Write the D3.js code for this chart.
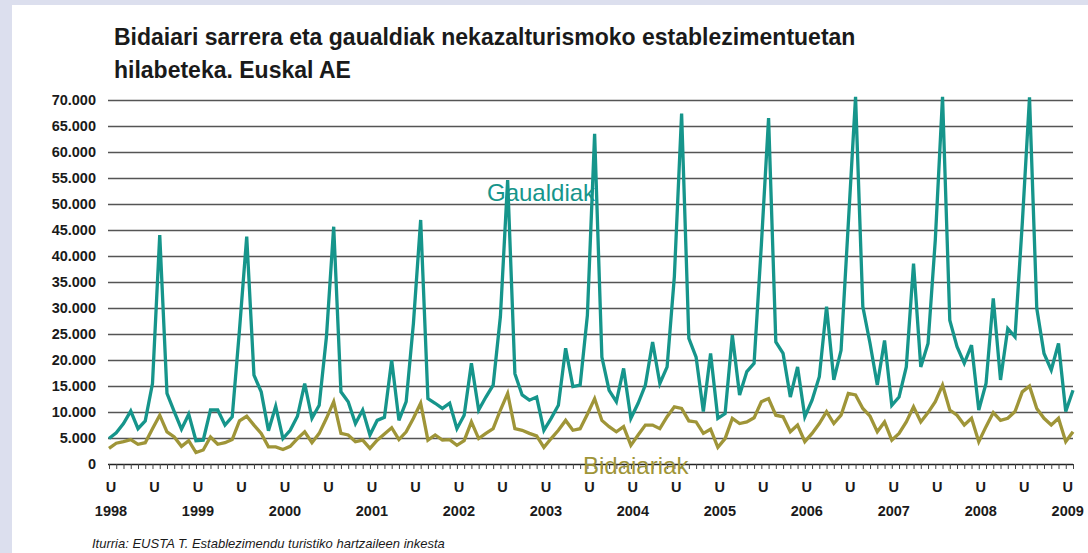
<!DOCTYPE html>
<html>
<head>
<meta charset="utf-8">
<script src="https://cdn.jsdelivr.net/npm/d3@7"></script>
<style>
  html, body { margin: 0; padding: 0; background: #dcdfee; }
  svg { display: block; font-family: "Liberation Sans", Arial, sans-serif; }
</style>
</head>
<body>
<svg id="chart" width="1088" height="553"></svg>
<script>
// Monthly values, Jan 1998 .. Feb 2009
var gaualdiak = [
  4800, 5900, 7700, 10100, 6700, 8200, 15400, 44000, 13500, 10000, 6600, 9500,
  4400, 4500, 10300, 10300, 7400, 9000, 25700, 43700, 17000, 13800, 6300, 11000,
  4800, 6400, 9100, 15400, 8700, 11200, 24400, 45600, 13800, 11900, 7700, 10300,
  5500, 8300, 8900, 19900, 8300, 11900, 27000, 46900, 12500, 11600, 10600, 11600,
  6700, 9300, 19300, 10300, 12800, 15100, 28300, 54600, 17300, 13200, 12200, 12800,
  6400, 8700, 11200, 22200, 14800, 15100, 28500, 63500, 20500, 14100, 11900, 18300,
  8700, 11600, 15100, 23400, 15400, 18600, 36000, 67400, 24100, 20500, 10000, 21200,
  8700, 9600, 24700, 13200, 17700, 19300, 42000, 66500, 23400, 21200, 12800, 18600,
  9000, 12200, 16700, 30200, 16100, 21800, 46200, 70600, 30200, 23100, 15100, 23700,
  11200, 12800, 18600, 38500, 18600, 23100, 43000, 70600, 27600, 22500, 19300, 22800,
  10300, 15400, 31800, 16100, 26000, 24400, 46200, 70500, 29900, 21200, 18000, 23100,
  10000, 14100
];

var bidaiariak = [
  2900, 3900, 4200, 4600, 3700, 4000, 6700, 9300, 6100, 5100, 3300, 4400,
  2100, 2600, 5100, 3700, 4000, 4600, 8200, 9100, 7400, 5800, 3200, 3200,
  2700, 3300, 4800, 6100, 4000, 5800, 8700, 11900, 5800, 5500, 4200, 4500,
  2900, 4500, 5700, 6900, 4600, 6100, 8700, 11600, 4500, 5500, 4500, 4600,
  3500, 4400, 8000, 4800, 5800, 6700, 10300, 13500, 6700, 6400, 5800, 5300,
  3100, 4800, 6400, 8300, 6400, 6700, 9500, 12500, 8300, 7100, 6100, 7100,
  3500, 5500, 7400, 7400, 6700, 9000, 10900, 10600, 8200, 8000, 5800, 6600,
  3100, 4800, 8700, 7700, 8000, 8800, 11900, 12500, 9300, 9000, 6100, 7400,
  4200, 5800, 7700, 10000, 7700, 9300, 13500, 13200, 10600, 9100, 6100, 8000,
  4500, 5800, 8000, 10900, 8000, 9800, 11900, 15100, 10300, 9300, 7400, 8700,
  4200, 7100, 9800, 8300, 8700, 10000, 13800, 14900, 10600, 8700, 7400, 8700,
  4200, 6100
];

var years = ["1998", "1999", "2000", "2001", "2002", "2003", "2004",
             "2005", "2006", "2007", "2008", "2009"];
var yTicks = [0, 5000, 10000, 15000, 20000, 25000, 30000, 35000,
              40000, 45000, 50000, 55000, 60000, 65000, 70000];

var teal = "#16958b", gold = "#9f9538";

var svg = d3.select("#chart");

// white card
svg.append("rect")
  .attr("x", 12).attr("y", 5)
  .attr("width", 1076).attr("height", 548)
  .attr("fill", "#fff");

// title
var title = svg.append("text")
  .attr("font-size", "23px").attr("font-weight", "bold")
  .attr("fill", "#1a1a1a");
title.append("tspan").attr("x", 114).attr("y", 45)
  .text("Bidaiari sarrera eta gaualdiak nekazalturismoko establezimentuetan");
title.append("tspan").attr("x", 114).attr("y", 78)
  .text("hilabeteka. Euskal AE");

var n = gaualdiak.length;

var x = d3.scaleLinear()
    .domain([0, n - 1])
    .range([109, 1073]);

var y = d3.scaleLinear()
    .domain([0, 70000])
    .range([463.5, 100]);

// gridlines
svg.append("g")
  .selectAll("line")
  .data(yTicks.slice(1))
  .enter().append("line")
  .attr("x1", 108).attr("x2", 1073)
  .attr("y1", function(d) { return Math.round(y(d)) + 0.5; })
  .attr("y2", function(d) { return Math.round(y(d)) + 0.5; })
  .attr("stroke", "#555")
  .attr("stroke-width", 1.3);

// y labels
svg.append("g")
  .selectAll("text")
  .data(yTicks)
  .enter().append("text")
  .attr("x", 96)
  .attr("y", function(d) { return y(d) + 5; })
  .attr("text-anchor", "end")
  .attr("font-size", "14.5px").attr("font-weight", "bold")
  .attr("fill", "#1a1a1a")
  .text(function(d) { return d3.format(",")(d).replace(/,/g, "."); });

// x axis with monthly ticks
var xAxis = d3.axisBottom(x)
    .tickValues(d3.range(n))
    .tickSize(5)
    .tickFormat("");

var gx = svg.append("g")
  .attr("transform", "translate(0," + Math.round(y(0)) + ")")
  .call(xAxis);
gx.select(".domain").attr("stroke", "#222").attr("stroke-width", 1.3).attr("d", "M108,0.5H1073");
gx.selectAll(".tick line").attr("stroke", "#444");

// U labels every six months, year under each January
var half = d3.range(0, n, 6);
svg.append("g")
  .selectAll("text")
  .data(half)
  .enter().append("text")
  .attr("x", function(d) { return x(d) + 2; })
  .attr("y", 492)
  .attr("text-anchor", "middle")
  .attr("font-size", "14.5px").attr("font-weight", "bold")
  .attr("fill", "#1a1a1a")
  .text("U");

svg.append("g")
  .selectAll("text")
  .data(years)
  .enter().append("text")
  .attr("x", function(d, i) { return x(i * 12) + 2; })
  .attr("y", 516)
  .attr("text-anchor", "middle")
  .attr("font-size", "14.5px").attr("font-weight", "bold")
  .attr("fill", "#1a1a1a")
  .text(function(d) { return d; });

// lines
var line = d3.line()
    .x(function(d, i) { return x(i); })
    .y(function(d) { return y(d); });

svg.append("path")
  .datum(bidaiariak)
  .attr("d", line)
  .attr("fill", "none")
  .attr("stroke", gold)
  .attr("stroke-width", 3.3)
  .attr("stroke-linejoin", "miter");

svg.append("path")
  .datum(gaualdiak)
  .attr("d", line)
  .attr("fill", "none")
  .attr("stroke", teal)
  .attr("stroke-width", 3.3)
  .attr("stroke-linejoin", "miter");

// series labels
svg.append("text")
  .attr("x", 487).attr("y", 201)
  .attr("font-size", "24px")
  .attr("fill", teal)
  .text("Gaualdiak");

svg.append("text")
  .attr("x", 583).attr("y", 474)
  .attr("font-size", "24px")
  .attr("fill", gold)
  .text("Bidaiariak");

// source
svg.append("text")
  .attr("x", 92).attr("y", 548)
  .attr("font-size", "13px").attr("font-style", "italic")
  .attr("fill", "#1a1a1a")
  .text("Iturria: EUSTA T. Establezimendu turistiko hartzaileen inkesta");
</script>
</body>
</html>
